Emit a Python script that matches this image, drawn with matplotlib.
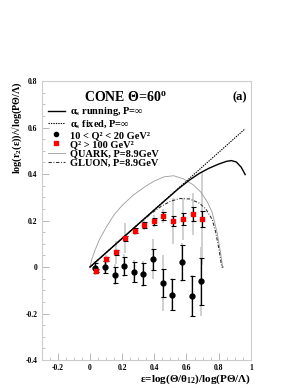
import numpy as np
import matplotlib
matplotlib.use('Agg')
import matplotlib.pyplot as plt
from matplotlib.lines import Line2D

plt.rcParams['font.family'] = ['Liberation Serif', 'DejaVu Serif']
plt.rcParams['font.weight'] = 'bold'
plt.rcParams['mathtext.fontset'] = 'custom'
plt.rcParams['mathtext.rm'] = 'Liberation Serif:bold'
plt.rcParams['mathtext.it'] = 'Liberation Serif:bold'
plt.rcParams['mathtext.bf'] = 'Liberation Serif:bold'

# theory curves
run_x = [0, 0.2, 0.4, 0.55, 0.62, 0.68, 0.74, 0.8, 0.85, 0.88, 0.91, 0.94, 0.965]
run_y = [0, 0.123, 0.246, 0.337, 0.375, 0.403, 0.425, 0.443, 0.455, 0.458, 0.452, 0.43, 0.398]
fix_x = [0, 0.965]
fix_y = [0, 0.595]
quark_x = [0, 0.01, 0.03, 0.06, 0.1, 0.15, 0.2, 0.27, 0.34, 0.4, 0.46, 0.52, 0.58,
           0.64, 0.69, 0.73, 0.76, 0.79, 0.81, 0.825]
quark_y = [0, 0.03, 0.07, 0.12, 0.17, 0.225, 0.265, 0.31, 0.345, 0.37, 0.388, 0.393, 0.38,
           0.355, 0.322, 0.28, 0.235, 0.15, 0.07, 0.0]
gluon_x = [0, 0.1, 0.2, 0.3, 0.38, 0.44, 0.5, 0.56, 0.62, 0.68, 0.72, 0.76, 0.78, 0.8, 0.815, 0.82, 0.83]
gluon_y = [0, 0.062, 0.124, 0.184, 0.23, 0.26, 0.283, 0.295, 0.293, 0.275, 0.25, 0.205, 0.155, 0.085, 0.02, 0.0, 0.0]

# data: 10 < Q^2 < 20
lo_x = [0.03, 0.093, 0.155, 0.214, 0.274, 0.332, 0.393, 0.453, 0.511, 0.572, 0.632, 0.69]
lo_y = [-0.005, 0.0, -0.033, 0.006, -0.02, -0.029, 0.034, -0.069, -0.119, 0.02, -0.126, -0.062]
lo_err = [0.022, 0.027, 0.035, 0.038, 0.043, 0.047, 0.045, 0.06, 0.066, 0.074, 0.086, 0.1]
lo_sys = [0.03, 0.03, 0.045, 0.05, 0.05, 0.055, 0.085, 0.12, 0.07, 0.085, 0.09, 0.15]

# data: Q^2 > 100
hi_x = [0.039, 0.097, 0.159, 0.218, 0.278, 0.336, 0.397, 0.457, 0.518, 0.578, 0.639, 0.699]
hi_y = [-0.015, 0.034, 0.064, 0.124, 0.157, 0.181, 0.198, 0.221, 0.198, 0.207, 0.227, 0.207]
hi_err = [0.008, 0.008, 0.01, 0.01, 0.012, 0.013, 0.015, 0.017, 0.021, 0.025, 0.03, 0.036]
hi_sys = [0.015, 0.02, 0.05, 0.065, 0.02, 0.02, 0.025, 0.03, 0.1, 0.09, 0.09, 0.2]

fig = plt.figure(figsize=(3.0, 3.88), dpi=100)
ax = fig.add_axes([0.139, 0.072, 0.697, 0.719])

ax.errorbar(lo_x, lo_y, yerr=lo_sys, fmt='none', ecolor='#d0d0d0', elinewidth=1.4, zorder=1)
ax.errorbar(hi_x, hi_y, yerr=hi_sys, fmt='none', ecolor='#d0d0d0', elinewidth=1.4, zorder=1)

ax.plot(quark_x, quark_y, color='#999999', lw=0.6, zorder=2)
ax.plot(gluon_x, gluon_y, color='#333333', lw=0.8, ls=(0, (3, 1.5, 0.8, 1.5)), zorder=2)
ax.plot(fix_x, fix_y, color='black', lw=0.8, ls=(0, (1.2, 1.0)), zorder=2)
ax.plot(run_x, run_y, color='black', lw=1.0, zorder=3)

ax.errorbar(lo_x, lo_y, yerr=lo_err, fmt='o', color='black', ms=3.5, ecolor='black',
            elinewidth=0.9, capsize=1.8, capthick=0.8, zorder=4)
ax.errorbar(hi_x, hi_y, yerr=hi_err, fmt='s', color='#ff0000', mec='#ff0000', ms=3.5,
            ecolor='black', elinewidth=0.9, capsize=1.8, capthick=0.8, zorder=5)

ax.set_xlim(-0.3, 1.0)
ax.set_ylim(-0.4, 0.8)
ax.set_xticks([-0.2, 0, 0.2, 0.4, 0.6, 0.8, 1])
ax.set_xticklabels(['-0.2', '0', '0.2', '0.4', '0.6', '0.8', '1'])
ax.set_yticks([-0.4, -0.2, 0, 0.2, 0.4, 0.6, 0.8])
ax.set_yticklabels(['-0.4', '-0.2', '0', '0.2', '0.4', '0.6', '0.8'])
ax.set_xticks(np.arange(-0.3, 1.001, 0.05), minor=True)
ax.set_yticks(np.arange(-0.4, 0.801, 0.05), minor=True)
ax.tick_params(which='major', direction='in', length=5, width=0.6, color='#aaaaaa',
               labelsize=5.5, pad=3)
ax.tick_params(which='minor', direction='in', length=2.5, width=0.5, color='#aaaaaa')
for lab in ax.get_xticklabels() + ax.get_yticklabels():
    lab.set_fontweight('bold')
for s in ax.spines.values():
    s.set_color('#cccccc')
    s.set_linewidth(0.8)

ax.set_xlabel(r'ε=log(Θ/θ$_{12}$)/log(PΘ/Λ)', fontsize=8, fontweight='bold', loc='right', labelpad=0)
ax.set_ylabel(r'log(r$_2$(ε))/√log(PΘ/Λ)', fontsize=7.3, fontweight='bold', loc='top', labelpad=1)

ax.text(0.40, 0.943, r'CONE Θ=60$^{\rm o}$', transform=ax.transAxes, ha='center', va='center',
        fontsize=10, fontweight='bold')
ax.text(0.982, 0.943, '(a)', transform=ax.transAxes, ha='right', va='center',
        fontsize=9, fontweight='bold')

handles = [
    Line2D([], [], color='black', lw=1.0),
    Line2D([], [], color='black', lw=0.8, ls=(0, (1.2, 1.0))),
    Line2D([], [], color='black', marker='o', ls='none', ms=3),
    Line2D([], [], color='#ff0000', marker='s', ls='none', ms=3),
    Line2D([], [], color='#999999', lw=0.6),
    Line2D([], [], color='#333333', lw=0.8, ls=(0, (3, 1.5, 0.8, 1.5))),
]
labels = [r'α$_{\rm s}$ running, P=∞', r'α$_{\rm s}$ fixed, P=∞',
          '10 < Q² < 20 GeV²', 'Q² > 100 GeV²',
          'QUARK, P=8.9GeV', 'GLUON, P=8.9GeV']
leg = ax.legend(handles, labels, loc='upper left', bbox_to_anchor=(0.0, 0.935), frameon=False,
                handlelength=1.6, handletextpad=0.5, labelspacing=0.0,
                borderaxespad=0.2, prop={'weight': 'bold', 'size': 7.5})

fig.savefig('out.png', dpi=100)
